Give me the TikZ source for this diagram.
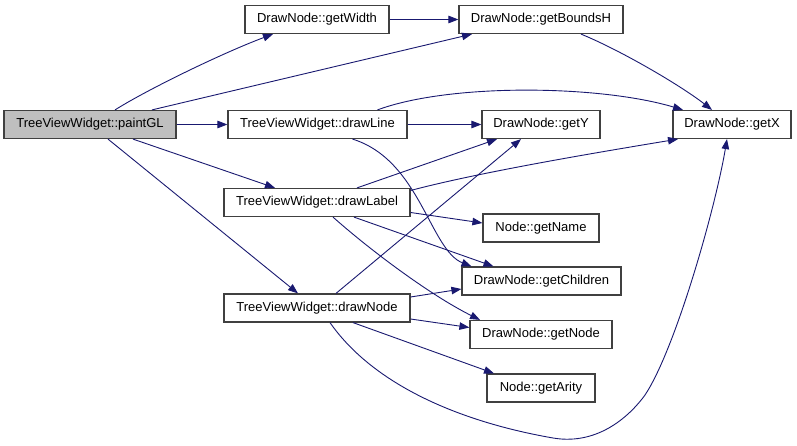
\documentclass[tikz,border=0pt]{standalone}
\usepackage{fontspec}
\setmainfont{Liberation Sans}
\usetikzlibrary{arrows.meta}
\definecolor{edgec}{HTML}{191970}
\definecolor{boxc}{HTML}{404040}
\begin{document}
\begin{tikzpicture}[x=1pt,y=-1pt,
  fn/.style={draw=boxc,line width=1.2pt,fill=white,minimum height=28pt,inner sep=0pt,font=\fontsize{13}{15}\selectfont},
  call/.style={draw=edgec,line width=0.9pt,-{Triangle[length=10pt,width=7.5pt]},fill=none},
]
\useasboundingbox (0,0) rectangle (797,446);
\node[fn,fill={rgb,255:red,191;green,191;blue,191},minimum width=172pt] (paint) at (90,124.5) {TreeViewWidget::paintGL};
\node[fn,minimum width=144pt] (gw) at (317,19.5) {DrawNode::getWidth};
\node[fn,minimum width=164pt] (gbh) at (541,19.5) {DrawNode::getBoundsH};
\node[fn,minimum width=179pt] (dline) at (317.5,124.5) {TreeViewWidget::drawLine};
\node[fn,minimum width=118pt] (gy) at (541,124.5) {DrawNode::getY};
\node[fn,minimum width=118pt] (gx) at (732,124.5) {DrawNode::getX};
\node[fn,minimum width=186pt] (dlabel) at (317,202.5) {TreeViewWidget::drawLabel};
\node[fn,minimum width=116pt] (gname) at (541,228) {Node::getName};
\node[fn,minimum width=159pt] (gch) at (541.5,281) {DrawNode::getChildren};
\node[fn,minimum width=186pt] (dnode) at (317,308) {TreeViewWidget::drawNode};
\node[fn,minimum width=142pt] (gnode) at (541,334.5) {DrawNode::getNode};
\node[fn,minimum width=108pt] (gar) at (541,388) {Node::getArity};

% paintGL
\draw[call] ([xshift=25pt]paint.north) .. controls (150,88) and (225,52) .. ([xshift=-44pt]gw.south);
\draw[call] ([xshift=62pt]paint.north) -- ([xshift=-69pt]gbh.south);
\draw[call] (paint.east) -- (dline.west);
\draw[call] ([xshift=43pt]paint.south) -- ([xshift=-42pt]dlabel.north);
\draw[call] ([xshift=18pt]paint.south) -- ([xshift=-19pt]dnode.north);
% getWidth, getBoundsH
\draw[call] (gw.east) -- (gbh.west);
\draw[call] ([xshift=40pt]gbh.south) .. controls (620,50) and (680,85) .. ([xshift=-20pt]gx.north);
% drawLine
\draw[call] ([xshift=60pt]dline.north) .. controls (450,83) and (600,85) .. ([xshift=-49pt]gx.north);
\draw[call] (dline.east) -- (gy.west);
\draw[call] ([xshift=35pt]dline.south) .. controls (420,160) and (430,250) .. ([xshift=-70pt]gch.north);
% drawLabel
\draw[call] ([xshift=40pt]dlabel.north) -- ([xshift=-44pt]gy.south);
\draw[call] ([yshift=12pt]dlabel.east) .. controls (480,172) and (600,152) .. ([xshift=-54pt]gx.south);
\draw[call] ([yshift=-10pt]dlabel.east) -- ([yshift=5pt]gname.west);
\draw[call] ([xshift=37pt]dlabel.south) -- ([xshift=-48pt]gch.north);
\draw[call] ([xshift=16pt]dlabel.south) .. controls (370,250) and (430,295) .. ([xshift=-61pt]gnode.north);
% drawNode
\draw[call] ([xshift=19pt]dnode.north) -- ([xshift=-20pt]gy.south);
\draw[call] ([yshift=11pt]dnode.east) -- ([yshift=-8pt]gch.west);
\draw[call] ([yshift=-11pt]dnode.east) -- ([yshift=7pt]gnode.west);
\draw[call] ([xshift=36pt]dnode.south) -- ([xshift=-47pt]gar.north);
\draw[call] ([xshift=13pt]dnode.south) .. controls (370,380) and (450,420) .. (553,438)
   .. controls (600,446) and (632,413) .. (645,395)
   .. controls (675,350) and (715,210) .. ([xshift=-5pt]gx.south);
\end{tikzpicture}
\end{document}
